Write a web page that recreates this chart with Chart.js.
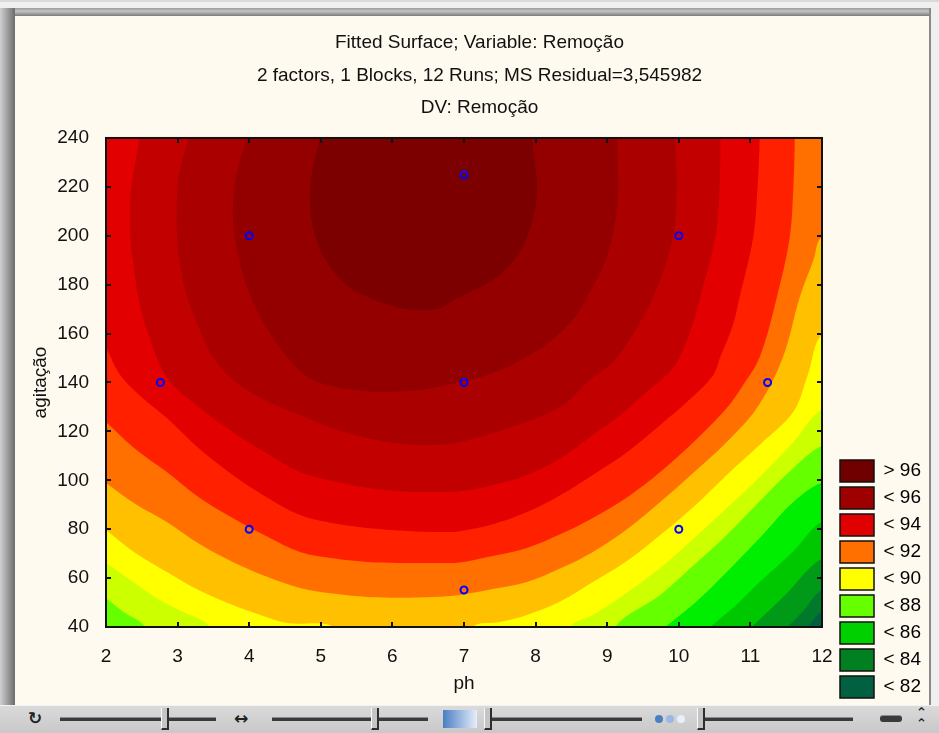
<!DOCTYPE html>
<html>
<head>
<meta charset="utf-8">
<title>Fitted Surface; Variable: Remoção</title>
<script src="https://cdn.jsdelivr.net/npm/chart.js@4.4.1/dist/chart.umd.min.js"></script>
<style>
  html, body { margin: 0; padding: 0; }
  body { width: 939px; height: 733px; position: relative; overflow: hidden; background: #fffaef; }
  #chart { position: absolute; left: 0; top: 0; }
  .edge { position: absolute; }
  #top-strip { left: 0; top: 0; width: 939px; height: 8px; background: #efefef; border-top: 2px solid #d9d9d9; box-sizing: border-box; }
  #top-border { left: 0; top: 8px; width: 939px; height: 8px; background: linear-gradient(#9a9a9a, #c4c4c4 40%, #7a7a7a); }
  #left-border { left: 0; top: 8px; width: 15px; height: 697px; background: linear-gradient(90deg, #d0d0d0, #a8a8a8 40%, #8a8a8a 70%, #6c6c6c); }
  #right-border { left: 929px; top: 8px; width: 10px; height: 697px; background: linear-gradient(90deg, #8a8a8a, #8a8a8a 2px, #efefef 2px); }
  #toolbar { left: 0; top: 705px; width: 939px; height: 28px; background: linear-gradient(#dadada, #c8c8c8); border-top: 1px solid #f2f2f2; box-sizing: border-box; }
  .track { position: absolute; top: 11px; height: 3px; background: #3a3a3a; border-top: 1px solid #8c8c8c; }
  .knob { position: absolute; top: 2px; width: 5px; height: 20px; background: #c4c4c4; border-left: 1px solid #fafafa; border-right: 2px solid #2e2e2e; border-bottom: 2px solid #2e2e2e; }
  .grad { position: absolute; top: 4px; left: 443px; width: 34px; height: 18px; background: linear-gradient(90deg, #4a7fc4, #e6eefa); }
  .dot { position: absolute; top: 9px; width: 8px; height: 8px; border-radius: 50%; }
  .icon { position: absolute; top: 2px; font: bold 17px "DejaVu Sans", sans-serif; color: #222; }
</style>
</head>
<body>
<canvas id="chart" width="939" height="705"></canvas>
<div class="edge" id="top-strip"></div>
<div class="edge" id="top-border"></div>
<div class="edge" id="left-border"></div>
<div class="edge" id="right-border"></div>
<div class="edge" id="toolbar">
  <span class="icon" style="left:28px">↻</span>
  <div class="track" style="left:60px;width:156px"></div><div class="knob" style="left:161px"></div>
  <span class="icon" style="left:234px">↔</span>
  <div class="track" style="left:272px;width:156px"></div><div class="knob" style="left:371px"></div>
  <div class="grad"></div>
  <div class="track" style="left:484px;width:158px"></div><div class="knob" style="left:484px"></div>
  <div class="dot" style="left:655px;background:#4a7fc4"></div>
  <div class="dot" style="left:666px;background:#9ab8e4"></div>
  <div class="dot" style="left:677px;background:#e8eefa"></div>
  <div class="track" style="left:697px;width:156px"></div><div class="knob" style="left:697px"></div>
  <div class="track" style="left:880px;width:22px;height:6px;top:9px;border-radius:3px"></div>
  <span class="icon" style="left:916px;top:1px;font-size:13px;line-height:11px">⌃<br>⌃</span>
</div>

<script>
const FONT = '"Liberation Sans", Arial, sans-serif';

const phRange = [2, 12];
const agitacaoRange = [40, 240];

// experimental runs (blue circles)
const runPh = [2.76, 4, 4, 7, 7, 7, 10, 10, 11.24];
const runAgitacao = [140, 80, 200, 55.15, 140, 224.85, 80, 200, 140];

const legendLabels = ['> 96', '< 96', '< 94', '< 92', '< 90', '< 88', '< 86', '< 84', '< 82'];
const legendColors = ['#700000', '#9e0000', '#e00000', '#ff7000', '#ffff00', '#66ff00', '#00d000', '#008020', '#006040'];

// colour inside each contour line, peak first; the last one is the corner under everything
const bandColors = ['#7c0000', '#940000', '#aa0000', '#c20000', '#e20000', '#ff2000', '#ff7000', '#ffc000',
                    '#ffff00', '#ccff00', '#66ff00', '#00ee00', '#00c800', '#009a18', '#007a2a', '#006040'];

// contour lines as [ph, agitação], from one edge of the plot to another
const contour1 = [[4.99,240],[4.87,225],[4.85,212],[4.92,200],[5.09,189],[5.35,180],[5.65,175],[6.11,170.5],[6.6,170],
                  [6.94,175],[7.41,182],[7.7,190],[7.88,199.5],[8.0,212],[8.02,222],[7.95,240]];
const contour2 = [[3.97,240],[3.82,225],[3.77,209],[3.8,199.5],[3.87,189],[3.98,178],[4.15,167],[4.53,150.4],[4.89,141],
                  [5.6,136.5],[6.2,136.5],[6.57,137.8],[7.41,144],[8.1,154.5],[8.5,165],[8.72,175],[8.95,188],
                  [9.07,199.5],[9.15,216],[9.14,240]];
const contour3 = [[3.15,240],[3.02,225],[2.99,216],[2.99,200],[3.03,189],[3.13,175],[3.31,161.5],[3.5,150],[3.77,141],
                  [4.2,133],[4.71,126.7],[5.2,121],[5.65,117.3],[6.1,115],[6.57,114.4],[7.0,116],[7.88,124],
                  [8.4,131],[8.72,140],[9.14,150.4],[9.64,175],[9.92,199.5],[9.97,220],[9.95,240]];
const contour4 = [[2.47,240],[2.38,225],[2.34,216],[2.34,200],[2.38,189],[2.45,175],[2.57,161.5],[2.85,142],[3.25,131],
                  [3.77,119.8],[4.25,111],[4.71,103.4],[5.2,99.5],[5.65,96.9],[6.1,95.5],[6.57,95.2],[6.94,95.5],
                  [7.4,98],[7.88,102.2],[8.35,109],[8.8,118.5],[9.2,127],[9.5,134.9],[9.92,146],[10.15,160],
                  [10.3,175],[10.51,199.5],[10.57,220],[10.58,240]];
const contour5 = [[2,154.5],[2.2,143],[2.5,134],[2.85,125.5],[3.3,113],[3.77,102.2],[4.25,93],[4.71,85.8],[5.2,82.3],
                  [5.65,80.5],[6.1,79.5],[6.57,78.9],[6.94,79.2],[7.4,82],[7.88,87],[8.35,94],[8.8,102.2],[9.3,112],
                  [9.74,122.6],[10.15,133],[10.48,143],[10.58,150.4],[10.75,163],[10.85,175],[11.04,199.5],
                  [11.1,220],[11.13,240]];
const contour6 = [[2,123.8],[2.4,113],[2.85,103.4],[3.3,93],[3.77,84.6],[4.25,77],[4.71,70.7],[5.2,68],[5.65,66.6],
                  [6.1,66.2],[6.57,66.2],[6.94,66.4],[7.4,69],[7.88,72.3],[8.35,78],[8.8,84.6],[9.3,93.5],
                  [9.74,103.4],[10.2,115.5],[10.67,129.6],[10.9,139],[11.13,150.4],[11.37,175],[11.55,199.5],
                  [11.6,220],[11.62,240]];
const contour7 = [[2,98.9],[2.4,90.5],[2.85,82.9],[3.3,74],[3.77,66.6],[4.25,60.5],[4.71,56],[5.2,53.6],[5.65,52.3],
                  [6.1,52],[6.57,52.3],[6.94,53.1],[7.4,55.5],[7.88,58.4],[8.35,64],[8.8,70.7],[9.3,80.5],
                  [9.74,91.1],[10.2,103],[10.67,115.7],[11.1,130],[11.45,150],[11.69,175],[11.88,190],[12,199.5]];
const contour8a = [[2,79.7],[2.4,70.5],[2.85,62.5],[3.3,55],[3.77,49],[4.15,45],[4.53,41.6],[5.17,40]];
const contour8b = [[7.13,40],[7.5,42],[7.88,44.9],[8.35,50.5],[8.8,58.4],[9.3,67.5],[9.74,77.6],[10.2,89],
                   [10.67,102.2],[11.15,115],[11.6,128],[11.8,143],[12,159.6]];
const contour9a = [[2,66.2],[2.38,58.4],[2.75,51],[3.08,46.1],[3.45,40]];
const contour9b = [[8.48,40],[8.8,44.9],[9.25,53.5],[9.74,64.1],[10.2,76],[10.67,88.7],[11.15,102],[11.6,115.7],[12,129]];
const contour10a = [[2,51.9],[2.25,46],[2.54,40]];
const contour10b = [[9.11,40],[9.74,53.1],[10.2,65],[10.67,77.6],[11.15,92],[11.6,105],[12,114]];
const contour11 = [[9.81,40],[10.25,50.5],[10.67,62.5],[11.15,77],[11.6,91.1],[12,99]];
const contour12 = [[10.44,40],[10.8,49],[11.13,58.4],[11.6,71],[12,83]];
const contour13 = [[11.02,40],[11.5,53.5],[12,68]];
const contour14 = [[11.52,40],[11.75,47],[12,55]];
const contour15 = [[11.8,40],[12,46]];

const contours = [[contour1], [contour2], [contour3], [contour4], [contour5], [contour6], [contour7],
                  [contour8a, contour8b], [contour9a, contour9b], [contour10a, contour10b],
                  [contour11], [contour12], [contour13], [contour14], [contour15]];

// how far outside the frame the closing path of a band runs
const outX = 0.4, outY = 12;

/**
 * Position of an edge point along the plot frame, going round
 * anticlockwise from the bottom right corner
 */
function framePos([x, y]) {
  const [x0, x1] = phRange, [y0, y1] = agitacaoRange;
  const sx = (y1 - y0) / (x1 - x0);
  const e = 1e-6;
  if (Math.abs(x - x1) < e) return y - y0;
  if (Math.abs(y - y1) < e) return (y1 - y0) + (x1 - x) * sx;
  if (Math.abs(x - x0) < e) return 2 * (y1 - y0) + (y1 - y);
  return 3 * (y1 - y0) + (x - x0) * sx;
}

// the same edge point pushed out of the plot
function pushOut([x, y]) {
  const [x0, x1] = phRange, [y0, y1] = agitacaoRange;
  const e = 1e-6;
  if (Math.abs(x - x1) < e) return [x + outX, y];
  if (Math.abs(y - y1) < e) return [x, y + outY];
  if (Math.abs(x - x0) < e) return [x - outX, y];
  return [x, y - outY];
}

// path outside the frame from one contour end to the next contour start
function alongFrame(from, to) {
  const [x0, x1] = phRange, [y0, y1] = agitacaoRange;
  const side = y1 - y0;
  const corners = [[x1 + outX, y0 - outY], [x1 + outX, y1 + outY], [x0 - outX, y1 + outY], [x0 - outX, y0 - outY]];
  let a = framePos(from), b = framePos(to);
  if (b < a) b += 4 * side;
  const out = [pushOut(from)];
  for (let k = 1; k <= 8; k++) {
    if (k * side > a && k * side < b) out.push(corners[k % 4]);
  }
  out.push(pushOut(to));
  return out;
}

// closed outline of the area on the peak side of a contour
function insideOf(parts) {
  const pts = [];
  parts.forEach((part, i) => {
    const next = parts[(i + 1) % parts.length];
    pts.push(...part, ...alongFrame(part[part.length - 1], next[0]));
  });
  return pts.map(([x, y]) => ({x, y}));
}

function band(points, color, tension) {
  return {
    data: points,
    showLine: true,
    fill: 'shape',
    backgroundColor: color,
    borderWidth: 0,
    pointRadius: 0,
    pointHoverRadius: 0,
    tension,
    capBezierPoints: false
  };
}

const frame = [[phRange[0], agitacaoRange[0]], [phRange[1], agitacaoRange[0]],
               [phRange[1], agitacaoRange[1]], [phRange[0], agitacaoRange[1]]];

const datasets = [{
  data: runPh.map((x, i) => ({x, y: runAgitacao[i]})),
  pointRadius: 3.5,
  pointBorderWidth: 2,
  pointBorderColor: '#0000ff',
  pointBackgroundColor: 'rgba(0,0,0,0)',
  showLine: false
}];
contours.forEach((parts, i) => datasets.push(band(insideOf(parts), bandColors[i], 0.35)));
datasets.push(band(frame.map(([x, y]) => ({x, y})), bandColors[bandColors.length - 1], 0));

// plot frame with short inward ticks on all four sides
const frameTicks = {
  id: 'frameTicks',
  afterDatasetsDraw(chart) {
    const {ctx, chartArea: a, scales: {x, y}} = chart;
    const len = 5;
    ctx.save();
    ctx.strokeStyle = '#111';
    ctx.lineWidth = 2;
    ctx.beginPath();
    x.ticks.forEach(t => {
      const px = Math.round(x.getPixelForValue(t.value));
      ctx.moveTo(px, a.bottom); ctx.lineTo(px, a.bottom - len);
      ctx.moveTo(px, a.top); ctx.lineTo(px, a.top + len);
    });
    y.ticks.forEach(t => {
      const py = Math.round(y.getPixelForValue(t.value));
      ctx.moveTo(a.left, py); ctx.lineTo(a.left + len, py);
      ctx.moveTo(a.right, py); ctx.lineTo(a.right - len, py);
    });
    ctx.stroke();
    ctx.strokeRect(a.left, a.top, a.width, a.height);
    ctx.restore();
  }
};

const tickFont = {family: FONT, size: 19};

new Chart(document.getElementById('chart'), {
  type: 'scatter',
  data: {datasets},
  plugins: [frameTicks],
  options: {
    responsive: false,
    animation: false,
    events: [],
    layout: {padding: {left: 31, right: 11, top: 0, bottom: 2}},
    scales: {
      x: {
        type: 'linear', min: phRange[0], max: phRange[1],
        ticks: {stepSize: 1, color: '#111', font: tickFont, padding: 10},
        grid: {display: false},
        border: {display: false},
        title: {display: true, text: 'ph', color: '#111', font: {family: FONT, size: 19, lineHeight: 1.2}, padding: {top: 0, bottom: 8}},
        afterFit: s => { s.height = 76; }
      },
      y: {
        type: 'linear', min: agitacaoRange[0], max: agitacaoRange[1],
        ticks: {stepSize: 20, color: '#111', font: tickFont, padding: 9},
        grid: {display: false},
        border: {display: false},
        title: {display: true, text: 'agitação', color: '#111', font: {family: FONT, size: 19, lineHeight: 1}, padding: 0},
        afterFit: s => { s.width = 75; }
      },
      gap: {
        type: 'linear', position: 'right', display: true,
        ticks: {display: false}, grid: {display: false}, border: {display: false},
        afterFit: s => { s.width = 13; }
      }
    },
    plugins: {
      title: {
        display: true,
        text: ['Fitted Surface; Variable: Remoção', '2 factors, 1 Blocks, 12 Runs; MS Residual=3,545982', 'DV: Remoção'],
        color: '#111',
        font: {family: FONT, size: 19, weight: 'normal', lineHeight: 1.71},
        padding: {top: 26.75, bottom: 13.75}
      },
      legend: {
        position: 'right',
        align: 'end',
        maxWidth: 93,
        onClick: () => {},
        labels: {
          boxWidth: 34,
          boxHeight: 22,
          padding: 5,
          color: '#111',
          font: {family: FONT, size: 19},
          generateLabels: () => legendLabels.map((text, i) => ({
            text, fillStyle: legendColors[i], strokeStyle: '#111', lineWidth: 1.5, hidden: false, index: i
          }))
        }
      },
      tooltip: {enabled: false}
    }
  }
});
</script>
</body>
</html>
